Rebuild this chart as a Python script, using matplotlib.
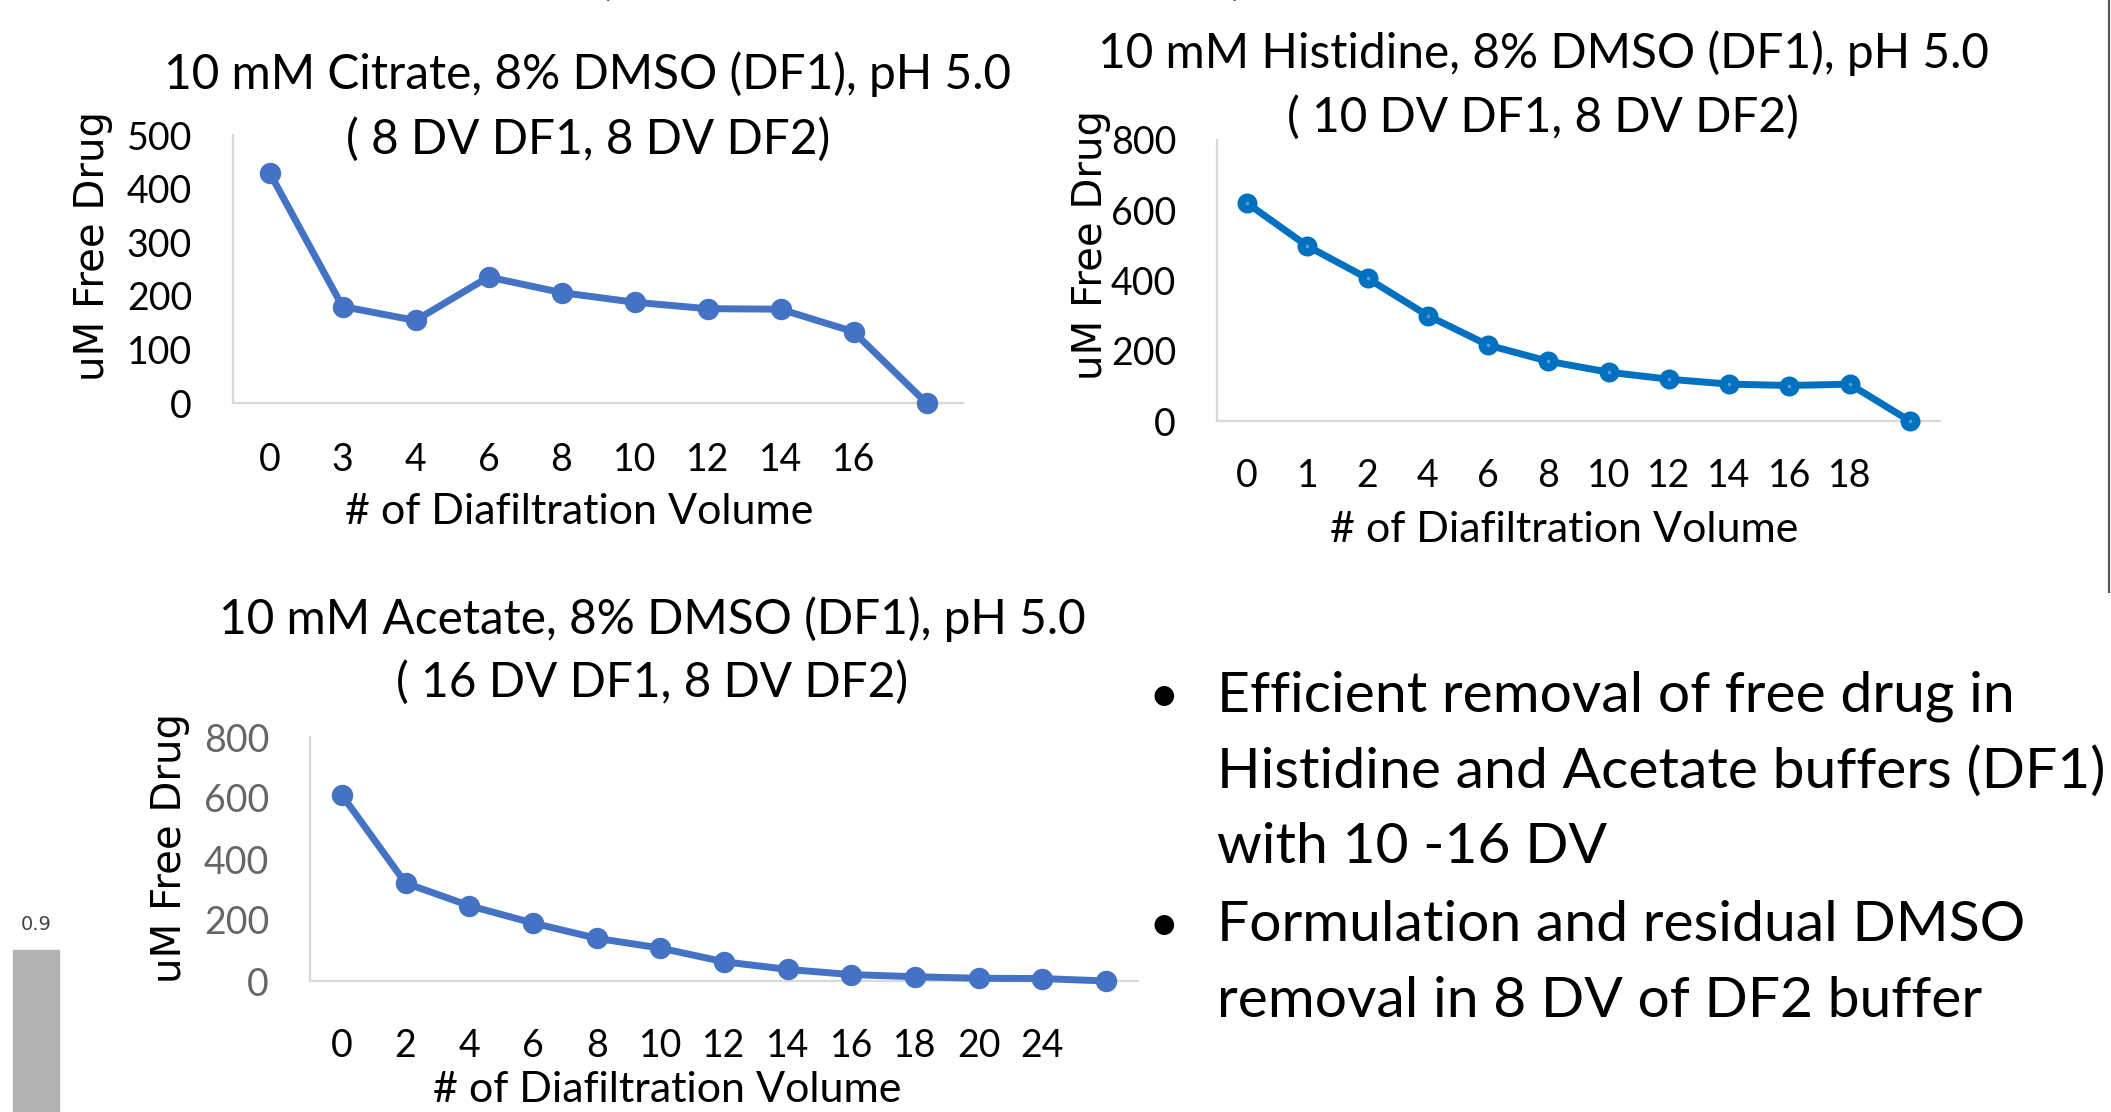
import matplotlib.pyplot as plt
from matplotlib.patches import Rectangle
from matplotlib.lines import Line2D

# data
citrate_dv = ["0", "3", "4", "6", "8", "10", "12", "14", "16", ""]
citrate_drug = [430, 180, 154, 235, 206, 188, 176, 175, 133, 0]

histidine_dv = ["0", "1", "2", "4", "6", "8", "10", "12", "14", "16", "18", ""]
histidine_drug = [620, 498, 406, 300, 216, 170, 139, 119, 105, 101, 105, 0]

acetate_dv = ["0", "2", "4", "6", "8", "10", "12", "14", "16", "18", "20", "24", ""]
acetate_drug = [610, 321, 247, 190, 140, 108, 63, 38, 21, 14, 9, 8, 0]

bullets = [
    ["Efficient removal of free drug in",
     "Histidine and Acetate buffers (DF1)",
     "with 10 -16 DV"],
    ["Formulation and residual DMSO",
     "removal in 8 DV of DF2 buffer"],
]

W, H = 2111, 1112
plt.rcParams["font.family"] = ["Lato", "DejaVu Sans"]
fig = plt.figure(figsize=(W / 100, H / 100), dpi=100)


def fx(x):
    return x / W


def fy(y):
    return 1 - y / H


def make_chart(left, right, zero, top, ymax, ystep, labels, values, color,
               title, title_x, base1, base2, xl_x, xl_base, tick_base,
               yl_x, yl_y, ytick_color="black", hollow=False):
    ax = fig.add_axes([fx(left), fy(zero), fx(right - left), (zero - top) / H])
    xs = list(range(len(values)))
    if hollow:
        ax.plot(xs, values, color=color, lw=5, marker="o", ms=8.6,
                mew=5.8, mfc="#5B9BD5", mec=color, clip_on=False, zorder=3)
    else:
        ax.plot(xs, values, color=color, lw=5, marker="o", ms=14.4,
                clip_on=False, zorder=3)
    ax.set_xlim(-0.5, len(values) - 0.5)
    ax.set_ylim(0, ymax)
    ax.set_yticks(range(0, ymax + 1, ystep))
    ax.set_xticks(xs)
    ax.set_xticklabels(labels)
    for s in ["top", "right"]:
        ax.spines[s].set_visible(False)
    for s in ["left", "bottom"]:
        ax.spines[s].set_color("#D9D9D9")
        ax.spines[s].set_linewidth(1.6)
    ax.tick_params(axis="x", length=0, labelsize=27,
                   pad=(tick_base - zero) * 0.72)
    ax.tick_params(axis="y", length=0, labelsize=27, pad=29.5,
                   labelcolor=ytick_color)
    for t in ax.get_xticklabels():
        t.set_va("baseline")
    for t in ax.get_yticklabels():
        t.set_va("center_baseline")
    ax.patch.set_alpha(0)

    fig.text(fx(title_x), fy(base1), title[0], ha="center", va="baseline",
             fontsize=34.4)
    fig.text(fx(title_x), fy(base2), title[1], ha="center", va="baseline",
             fontsize=34.4)
    fig.text(fx(xl_x), fy(xl_base), "# of Diafiltration Volume", ha="center",
             va="baseline", fontsize=31)
    fig.text(fx(yl_x), fy(yl_y), "uM Free Drug", ha="center", va="center",
             rotation=90, fontsize=29, family="DejaVu Sans")
    return ax


make_chart(233, 963, 403, 135, 500, 100, citrate_dv, citrate_drug, "#4472C4",
           ["10 mM Citrate, 8% DMSO (DF1), pH 5.0", "( 8 DV DF1, 8 DV DF2)"],
           588, 89, 154, 579, 524, 471, 93, 246)

make_chart(1217, 1940, 421, 140, 800, 200, histidine_dv, histidine_drug,
           "#0070C0",
           ["10 mM Histidine, 8% DMSO (DF1), pH 5.0", "( 10 DV DF1, 8 DV DF2)"],
           1543, 68, 132, 1564, 542, 487, 1091, 245, hollow=True)

make_chart(310, 1138, 981, 737, 800, 200, acetate_dv, acetate_drug, "#4472C4",
           ["10 mM Acetate, 8% DMSO (DF1), pH 5.0", "( 16 DV DF1, 8 DV DF2)"],
           652, 634, 697, 667, 1102, 1057, 170, 848, ytick_color="#666666")

# bullet text
baselines = [[712, 788, 863], [941, 1017]]
for lines, bases in zip(bullets, baselines):
    fig.text(fx(1164), fy(bases[0]), "\u2022", ha="center", va="baseline",
             fontsize=38)
    for line, b in zip(lines, bases):
        fig.text(fx(1217), fy(b), line, ha="left", va="baseline", fontsize=41)

# cut-off pieces of the slide
fig.text(fx(605), fy(-6), "(", ha="center", va="baseline", fontsize=35)
fig.text(fx(1237), fy(-6), ")", ha="center", va="baseline", fontsize=35)
fig.patches.append(Rectangle((fx(13), 0), fx(46), fy(950), color="#B3B3B3",
                             transform=fig.transFigure, figure=fig))
fig.text(fx(36), fy(925), "0.9", ha="center", va="center", fontsize=14,
         color="#444444", family="DejaVu Sans")
fig.lines.append(Line2D([fx(2109), fx(2109)], [fy(0), fy(592)],
                        color="#555555", lw=1.5, transform=fig.transFigure))

fig.savefig("out.png", dpi=100)
